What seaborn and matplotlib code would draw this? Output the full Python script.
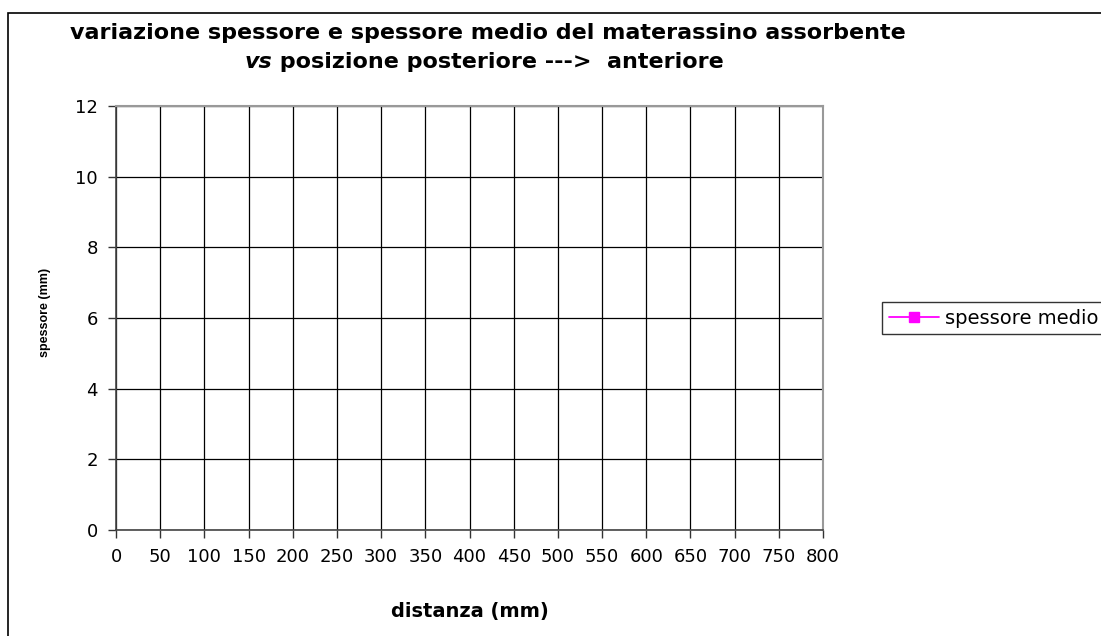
import matplotlib
matplotlib.use("Agg")
import matplotlib.pyplot as plt
import seaborn as sns
import pandas as pd
from matplotlib.patches import Rectangle
from matplotlib.lines import Line2D

# Data (the chart contains no plotted points)
distanza = []          # mm
spessore_medio = []    # mm
series_label = "spessore medio"
x_ticks = list(range(0, 801, 50))
y_ticks = list(range(0, 13, 2))

title_line1 = "variazione spessore e spessore medio del materassino assorbente"
title_vs = "vs"
title_rest = " posizione posteriore --->  anteriore"
xlabel = "distanza (mm)"
ylabel = "spessore (mm)"

sns.set_theme(style="white")
plt.rcParams['font.family'] = ['DejaVu Sans']
plt.rcParams['text.color'] = 'black'
plt.rcParams['axes.labelcolor'] = 'black'
plt.rcParams['xtick.color'] = 'black'
plt.rcParams['ytick.color'] = 'black'

fig = plt.figure(figsize=(11.01, 6.36), dpi=100)
W, H = 1101, 636
ax = fig.add_axes([116 / W, 1 - 530 / H, (823 - 116) / W, (530 - 106) / H])

df = pd.DataFrame({"distanza": pd.Series(distanza, dtype=float),
                   "spessore": pd.Series(spessore_medio, dtype=float)})
sns.lineplot(data=df, x="distanza", y="spessore", ax=ax, color="#FF00FF",
             marker="s", legend=False)

ax.set_xlim(0, 800)
ax.set_ylim(0, 12)
ax.set_xticks(x_ticks)
ax.set_yticks(y_ticks)
ax.set_xticklabels([str(v) for v in x_ticks], fontsize=13)
ax.set_yticklabels([str(v) for v in y_ticks], fontsize=13)
ax.grid(True, color="black", linewidth=0.9)
ax.set_axisbelow(True)
ax.tick_params(axis="both", direction="out", length=6, width=1, color="#333333",
               pad=7, labelcolor="black", bottom=True, left=True)
for s in ["left", "bottom"]:
    ax.spines[s].set_color("#444444")
    ax.spines[s].set_linewidth(1.2)
for s in ["top", "right"]:
    ax.spines[s].set_color("#999999")
    ax.spines[s].set_linewidth(1.5)
ax.set_xlabel("")
ax.set_ylabel("")

# axis labels
fig.text(470 / W, 1 - 612 / H, xlabel, ha="center", va="center",
         fontsize=14, fontweight="bold", color="black")
fig.text(45 / W, 1 - 312 / H, ylabel, ha="center", va="center",
         fontsize=9, fontweight="bold", rotation=90, color="black",
         family=["Liberation Sans", "DejaVu Sans"])

# title
fig.text(488 / W, 1 - 33 / H, title_line1, ha="center", va="center",
         fontsize=16, fontweight="bold", color="black")
fig.canvas.draw()
r = fig.canvas.get_renderer()
tv = fig.text(0, 1 - 62 / H, title_vs, ha="left", va="center", fontsize=16,
              fontweight="bold", style="italic", color="black")
tr = fig.text(0, 1 - 62 / H, title_rest, ha="left", va="center", fontsize=16,
              fontweight="bold", color="black")
wv = tv.get_window_extent(r).width
wr = tr.get_window_extent(r).width
start = 484 - (wv + wr) / 2
tv.set_x(start / W)
tr.set_x((start + wv) / W)

# legend
handle = Line2D([], [], color="#FF00FF", marker="s", markersize=7, linewidth=1.3)
leg = fig.legend([handle], [series_label], loc="center left",
                 bbox_to_anchor=(872 / W, 1 - 318 / H), fontsize=14,
                 frameon=True, fancybox=False, handlelength=2.6,
                 borderpad=0.35, handletextpad=0.3)
leg.get_frame().set_edgecolor("black")
leg.get_frame().set_linewidth(1.0)
for t in leg.get_texts():
    t.set_color("black")

# outer chart border
fig.patches.append(Rectangle((8 / W, -0.1), 1.2, 1 - 13 / H + 0.1,
                             transform=fig.transFigure, fill=False,
                             edgecolor="black", linewidth=1.2))

fig.savefig("out.png", dpi=100)
